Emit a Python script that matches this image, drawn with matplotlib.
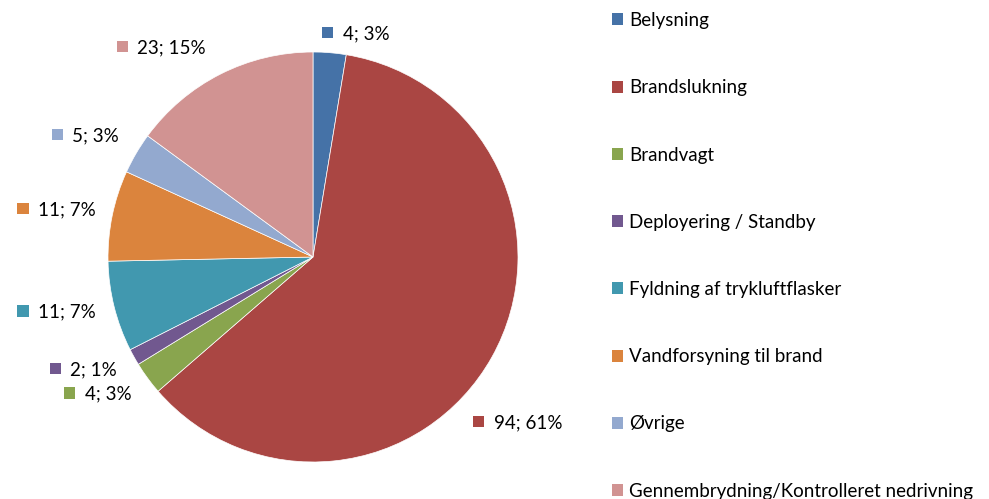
import matplotlib
matplotlib.use("Agg")
import matplotlib.pyplot as plt
from matplotlib.patches import Rectangle, Patch
from matplotlib.offsetbox import AnnotationBbox, HPacker, DrawingArea, TextArea

plt.rcParams['font.family'] = ['Lato', 'DejaVu Sans']

categories = ["Belysning", "Brandslukning", "Brandvagt", "Deployering / Standby",
              "Fyldning af trykluftflasker", "Vandforsyning til brand", "Øvrige",
              "Gennembrydning/Kontrolleret nedrivning"]
counts = [4, 94, 4, 2, 11, 11, 5, 23]
colors = ["#4572A7", "#AA4643", "#89A54E", "#71588F", "#4198AF", "#DB843D", "#93A9CF", "#D19392"]

# label group centres, in pie-radius units
label_pos = [(0.21, 1.09), (1.0, -0.81), (-1.05, -0.67), (-1.12, -0.55),
             (-1.25, -0.27), (-1.25, 0.23), (-1.11, 0.59), (-0.74, 1.02)]

W, H = 989, 499
fig = plt.figure(figsize=(W / 100, H / 100), dpi=100)
cx, cy, R = 313, 257, 205
ax = fig.add_axes([0, 0, 2 * cx / W, 1])
wedges, _ = ax.pie(counts, colors=colors, startangle=90, counterclock=False, radius=1,
                   wedgeprops=dict(edgecolor="white", linewidth=0.5))
ax.set_aspect("auto")
ax.set_xlim(-cx / R, cx / R)
ax.set_ylim((cy - H) / R, cy / R)
ax.axis("off")

fs = 13.5
total = sum(counts)
for c, col, pos in zip(counts, colors, label_pos):
    pct = round(100 * c / total)
    da = DrawingArea(8, 8, 0, 0)
    da.add_artist(Rectangle((0, 1), 8, 8, facecolor=col, edgecolor="none"))
    ta = TextArea(f"{c}; {pct}%", textprops=dict(fontsize=fs, color="black"))
    box = HPacker(children=[da, ta], align="center", pad=0, sep=7)
    ab = AnnotationBbox(box, pos, xycoords="data", frameon=False, box_alignment=(0.5, 0.5))
    ax.add_artist(ab)

handles = [Patch(facecolor=col, edgecolor="none") for col in colors]
fig.legend(handles, categories, loc="upper left", bbox_to_anchor=(612 / W, 1 - 12 / H),
           frameon=False, fontsize=fs, handlelength=0.6, handleheight=0.6,
           handletextpad=0.3, labelspacing=2.68, borderaxespad=0, borderpad=0)

fig.savefig("out.png", dpi=100)
